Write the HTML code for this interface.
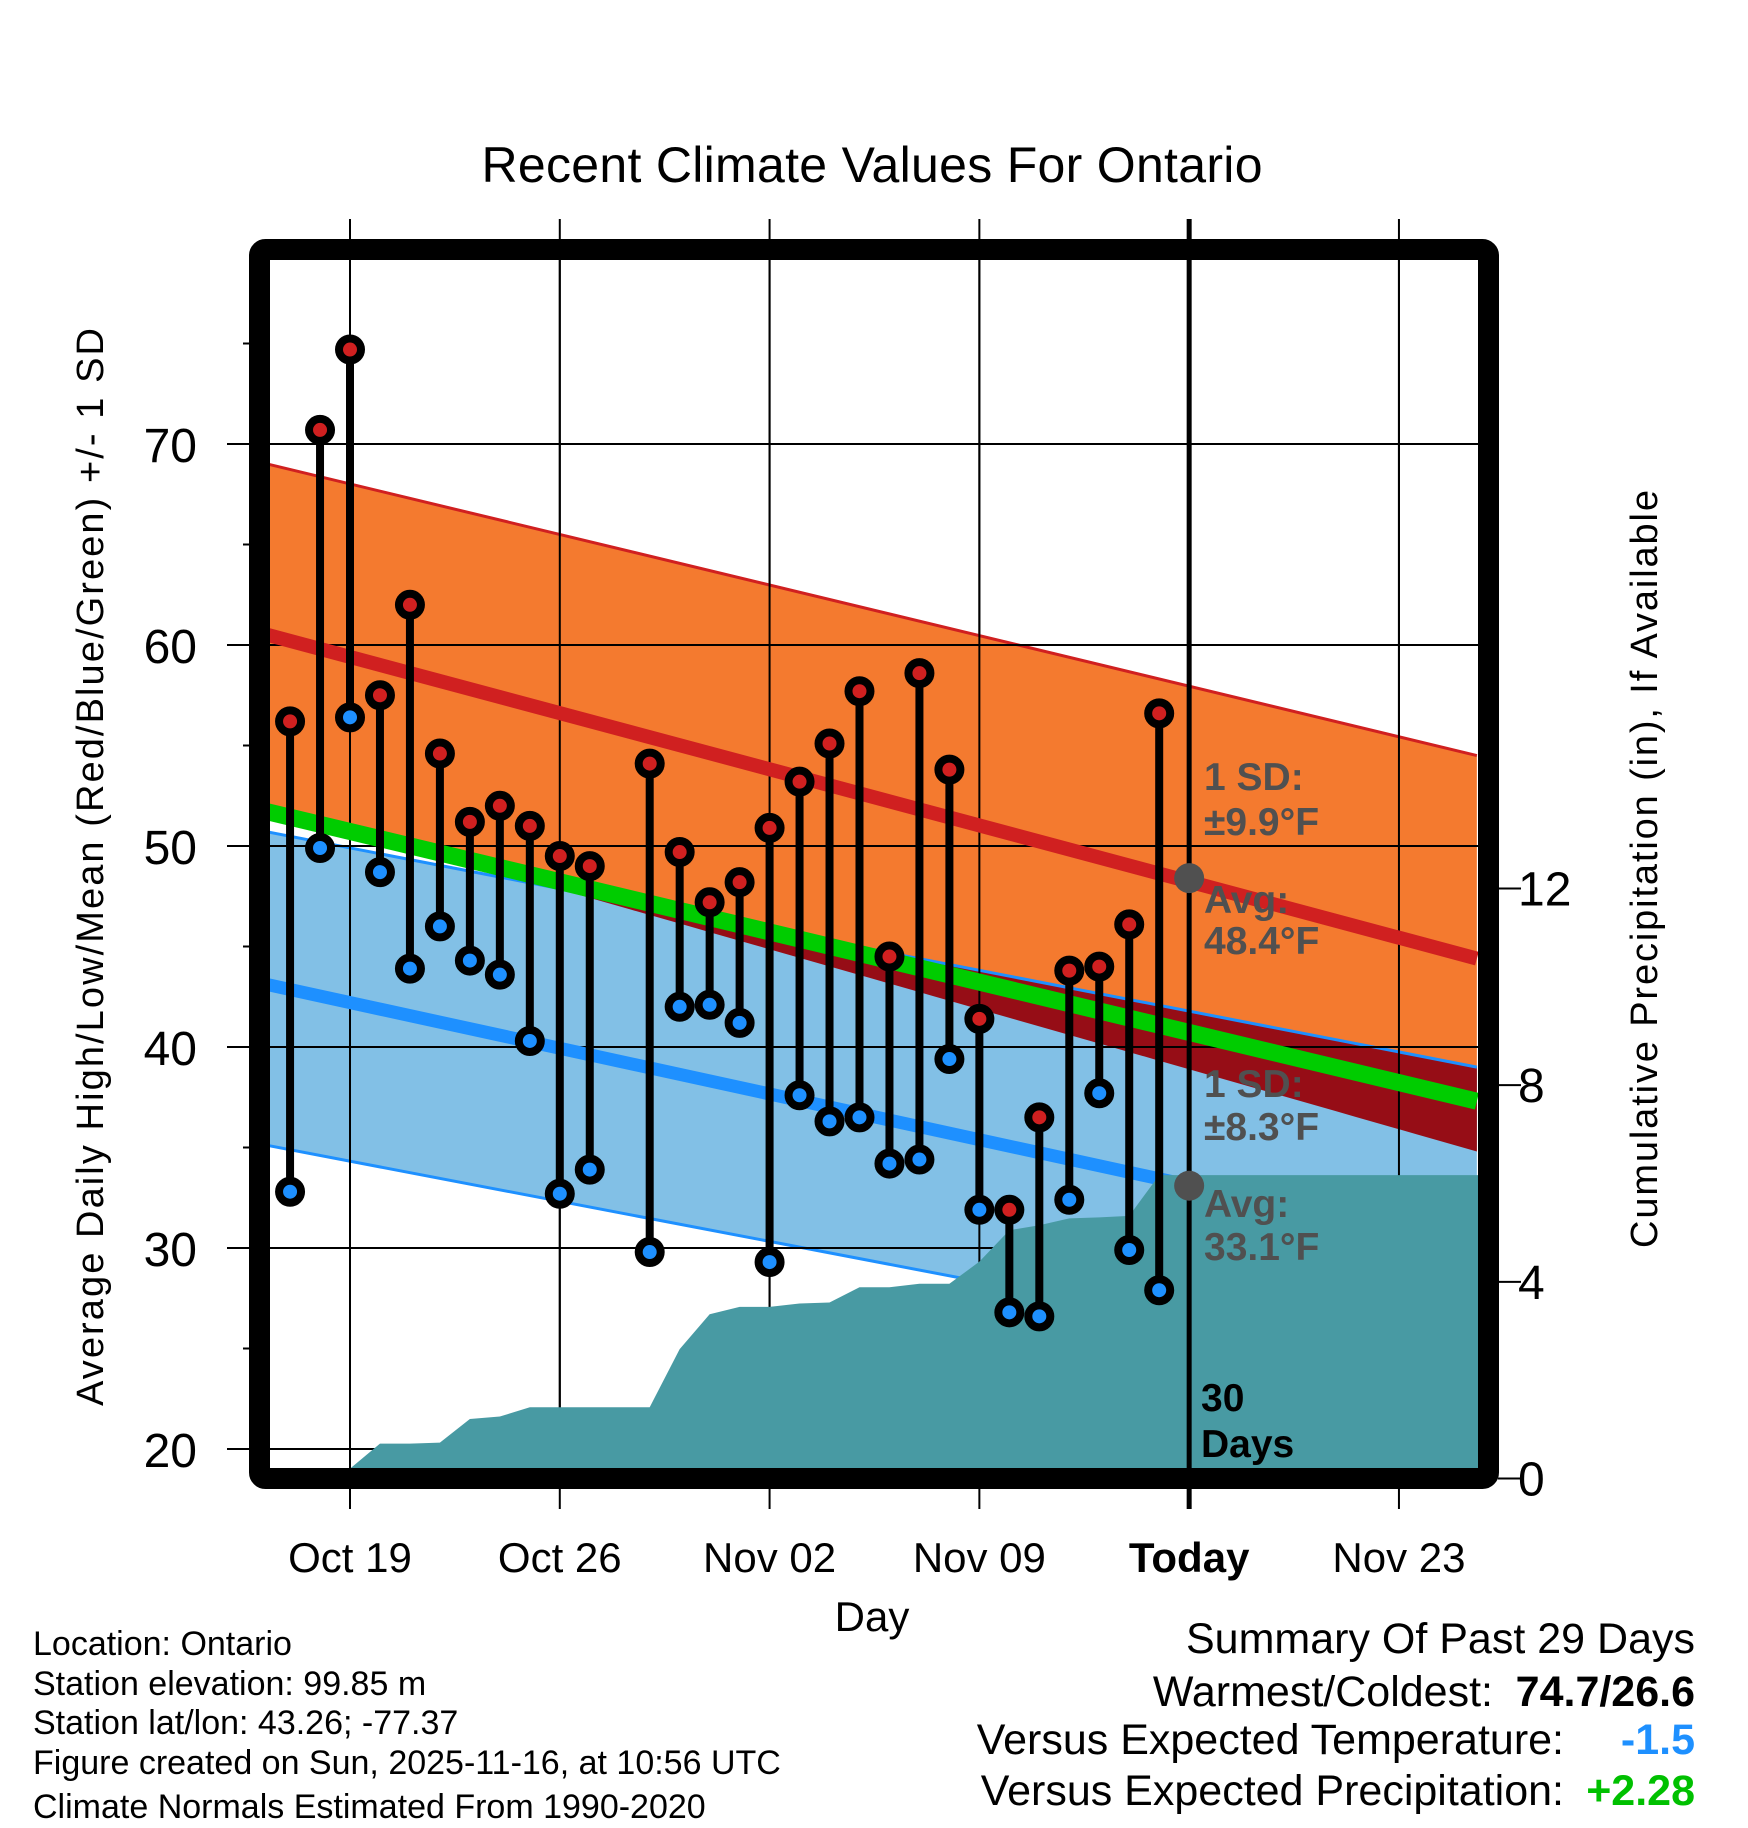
<!DOCTYPE html>
<html><head><meta charset="utf-8"><style>
html,body{margin:0;padding:0;background:#fff;}
svg{display:block;font-family:"Liberation Sans",Arial,sans-serif;}
</style></head><body>
<svg id="chart" width="1748" height="1828" viewBox="0 0 1748 1828" xmlns="http://www.w3.org/2000/svg">
<defs><clipPath id="plotclip"><rect x="270" y="260" width="1208" height="1208"/></clipPath></defs>
<g id="axes"></g>
<g id="bands" clip-path="url(#plotclip)"></g>
<text x="872" y="182" font-size="50" text-anchor="middle" textLength="781">Recent Climate Values For Ontario</text>
<text x="872" y="1631" font-size="42" text-anchor="middle">Day</text>
<text transform="translate(103,867) rotate(-90)" font-size="38" text-anchor="middle" textLength="1078">Average Daily High/Low/Mean (Red/Blue/Green) +/- 1 SD</text>
<text transform="translate(1657,869) rotate(-90)" font-size="38" text-anchor="middle" textLength="758">Cumulative Precipitation (in), If Available</text>
<g font-size="34">
<text x="33" y="1655">Location: Ontario</text>
<text x="33" y="1695">Station elevation: 99.85 m</text>
<text x="33" y="1734">Station lat/lon: 43.26; -77.37</text>
<text x="33" y="1774">Figure created on Sun, 2025-11-16, at 10:56 UTC</text>
<text x="33" y="1818">Climate Normals Estimated From 1990-2020</text>
</g>
<g font-size="43" text-anchor="end">
<text x="1695" y="1653">Summary Of Past 29 Days</text>
<text x="1493" y="1706">Warmest/Coldest:</text>
<text x="1695" y="1706" font-weight="bold">74.7/26.6</text>
<text x="1564" y="1754">Versus Expected Temperature:</text>
<text x="1695" y="1754" font-weight="bold" fill="#1E90FF">-1.5</text>
<text x="1564" y="1805">Versus Expected Precipitation:</text>
<text x="1695" y="1805" font-weight="bold" fill="#00C000">+2.28</text>
</g>
</svg>
<script>
// ---- data ----
const dayOffsets = [-2,-1,0,1,2,3,4,5,6,7,8,10,11,12,13,14,15,16,17,18,19,20,21,22,23,24,25,26,27]; // days relative to Oct 19
const highs = [56.2,70.7,74.7,57.5,62.0,54.6,51.2,52.0,51.0,49.5,49.0,54.1,49.7,47.2,48.2,50.9,53.2,55.1,57.7,44.5,58.6,53.8,41.4,31.9,36.5,43.8,44.0,46.1,56.6];
const lows  = [32.8,49.9,56.4,48.7,43.9,46.0,44.3,43.6,40.3,32.7,33.9,29.8,42.0,42.1,41.2,29.3,37.6,36.3,36.5,34.2,34.4,39.4,31.9,26.8,26.6,32.4,37.7,29.9,27.9];
const precipDays = [0,1,2,3,4,5,6,7,8,9,10,11,12,13,14,15,16,17,18,19,20,21,22,23,24,25,26,27,38];
const precipCum  = [0.2,0.71,0.71,0.73,1.21,1.26,1.45,1.45,1.45,1.45,1.45,2.63,3.34,3.49,3.49,3.56,3.58,3.89,3.89,3.96,3.96,4.41,5.05,5.15,5.29,5.31,5.34,6.17,6.17];
const normalDays = [-2.74, 37.6];
const normalHighUpper = [69.0, 54.5];
const normalHigh      = [60.5, 44.4];
const normalHighLower = [52.0, 34.8];
const normalLowUpper  = [50.7, 39.0];
const normalLow       = [43.1, 30.0];
const normalLowLower  = [35.1, 23.6];
const normalMean      = [51.7, 37.3];
const xTickDays = [0,7,14,21,28,35];
const xTickLabels = ["Oct 19","Oct 26","Nov 02","Nov 09","Today","Nov 23"];
const yTicks = [20,30,40,50,60,70];
const yMinor = [25,35,45,55,65,75];
const pTicks = [0,4,8,12];
const todayDay = 28;
const todayHigh = 48.4, todayLow = 33.1;

// ---- scales ----
const X = d => 350 + d * 29.97;
const Y = t => 1449 - (t - 20) * 20.1;
const YP = p => 1478.5 - p * 49.17;
const NS = "http://www.w3.org/2000/svg";
function mk(parent, tag, attrs){ const e=document.createElementNS(NS,tag); for(const k in attrs) e.setAttribute(k,attrs[k]); parent.appendChild(e); return e; }
const bands = document.getElementById('bands');
const axes = document.getElementById('axes');
const svg = document.getElementById('chart');
function interp(arr, d){ const t=(d-normalDays[0])/(normalDays[1]-normalDays[0]); return arr[0]+(arr[1]-arr[0])*t; }
function poly(top, bot){ let pts=[]; for(let i=0;i<normalDays.length;i++) pts.push(X(normalDays[i])+','+Y(top[i])); for(let i=normalDays.length-1;i>=0;i--) pts.push(X(normalDays[i])+','+Y(bot[i])); return pts.join(' '); }
function linePts(arr){ return normalDays.map((d,i)=>X(d)+','+Y(arr[i])).join(' '); }

let e;
e = mk(bands,'polygon',{points:poly(normalHighUpper,normalHighLower),fill:'#F47A2F'});
 
e = mk(bands,'polyline',{points:linePts(normalHighUpper),fill:'none',stroke:'#D02020','stroke-width':3});
 
e = mk(bands,'polygon',{points:poly(normalLowUpper,normalLowLower),fill:'#82C0E6'});
 
{
  let top=[], bot=[];
  for(let k=0;k<=60;k++){
    const d = normalDays[0] + (normalDays[1]-normalDays[0])*k/60;
    const lu = interp(normalLowUpper,d), hl = interp(normalHighLower,d);
    top.push(X(d)+','+Y(Math.max(lu,hl)));
    bot.unshift(X(d)+','+Y(hl));
  }
  e = mk(bands,'polygon',{points:top.concat(bot).join(' '),fill:'#960D16'});
   
}
e = mk(bands,'polyline',{points:linePts(normalLowUpper),fill:'none',stroke:'#1E90FF','stroke-width':3});
 
e = mk(bands,'polyline',{points:linePts(normalLowLower),fill:'none',stroke:'#1E90FF','stroke-width':3});
 

yTicks.forEach(t=>{ e=mk(bands,'line',{x1:270,x2:1478,y1:Y(t),y2:Y(t),stroke:'#000','stroke-width':2});
  });
xTickDays.forEach((d,i)=>{ if(d===todayDay) return; e=mk(bands,'line',{x1:X(d),x2:X(d),y1:260,y2:1468,stroke:'#000','stroke-width':2});
  });
xTickDays.forEach((d,i)=>{ if(d===todayDay) return; e=mk(axes,'line',{x1:X(d),x2:X(d),y1:219,y2:1509,stroke:'#000','stroke-width':2});
  });

e = mk(bands,'polyline',{points:linePts(normalHigh),fill:'none',stroke:'#D02020','stroke-width':14});
 
e = mk(bands,'polyline',{points:linePts(normalLow),fill:'none',stroke:'#1E90FF','stroke-width':13});
 
e = mk(bands,'polyline',{points:linePts(normalMean),fill:'none',stroke:'#00CC00','stroke-width':17});
 

let pp = [X(precipDays[0])+','+YP(0)];
precipDays.forEach((d,i)=>pp.push(X(d)+','+YP(precipCum[i])));
pp.push(X(precipDays[precipDays.length-1])+','+YP(0));
e = mk(bands,'polygon',{points:pp.join(' '),fill:'#489AA3'});
 

dayOffsets.forEach((d,i)=>{
  e = mk(bands,'line',{x1:X(d),x2:X(d),y1:Y(highs[i]),y2:Y(lows[i]),stroke:'#000','stroke-width':8});
   
});
dayOffsets.forEach((d,i)=>{
  e = mk(bands,'circle',{cx:X(d),cy:Y(highs[i]),r:11,fill:'#D02020',stroke:'#000','stroke-width':8});
   
  e = mk(bands,'circle',{cx:X(d),cy:Y(lows[i]),r:11,fill:'#1E90FF',stroke:'#000','stroke-width':8});
   
});

e = mk(svg,'line',{x1:X(todayDay),x2:X(todayDay),y1:219,y2:1509,stroke:'#000','stroke-width':5});
 
function txt(x,y,s,attrs,name){ const t=mk(svg,'text',Object.assign({x:x,y:y},attrs)); t.textContent=s;   return t; }
e = mk(svg,'circle',{cx:X(todayDay),cy:Y(todayHigh),r:15,fill:'#505050'});
 
e = mk(svg,'circle',{cx:X(todayDay),cy:Y(todayLow),r:15,fill:'#505050'});
 
const ann = {'font-size':39,'font-weight':'bold',fill:'#505050'};
txt(1204,790,'1 SD:',ann,'high-sd-label');
txt(1204,835,'\u00B19.9\u00B0F',ann,'high-sd-value');
txt(1204,913,'Avg:',ann,'high-avg-label');
txt(1204,954,todayHigh.toFixed(1)+'\u00B0F',ann,'high-avg-value');
txt(1204,1097,'1 SD:',ann,'low-sd-label');
txt(1204,1140,'\u00B18.3\u00B0F',ann,'low-sd-value');
txt(1204,1217,'Avg:',ann,'low-avg-label');
txt(1204,1260,todayLow.toFixed(1)+'\u00B0F',ann,'low-avg-value');
txt(1201,1411,'30',{'font-size':39,'font-weight':'bold'},'window-days-number');
txt(1201,1457,'Days',{'font-size':39,'font-weight':'bold'},'window-days-label');

e = mk(svg,'rect',{x:259.5,y:249.5,width:1229,height:1229,rx:6,fill:'none',stroke:'#000','stroke-width':21});
 

yTicks.forEach(t=>{
  e = mk(svg,'line',{x1:227,x2:250,y1:Y(t),y2:Y(t),stroke:'#000','stroke-width':2});
   
  txt(197,Y(t)+18,String(t),{'font-size':48,'text-anchor':'end'},'y-tick-label');
});
yMinor.forEach(t=>{
  e = mk(svg,'line',{x1:243,x2:250,y1:Y(t),y2:Y(t),stroke:'#000','stroke-width':2});
   
});
pTicks.forEach(p=>{
  e = mk(svg,'line',{x1:1498,x2:1521,y1:YP(p),y2:YP(p),stroke:'#000','stroke-width':2});
   
  txt(1518,YP(p)+17,String(p),{'font-size':48},'y2-tick-label');
});
xTickDays.forEach((d,i)=>{
  const a = {'font-size':42,'text-anchor':'middle'};
  if(xTickLabels[i]==='Today') a['font-weight']='bold';
  txt(X(d),1572,xTickLabels[i],a,'x-tick-label');
});
</script>
</body></html>
